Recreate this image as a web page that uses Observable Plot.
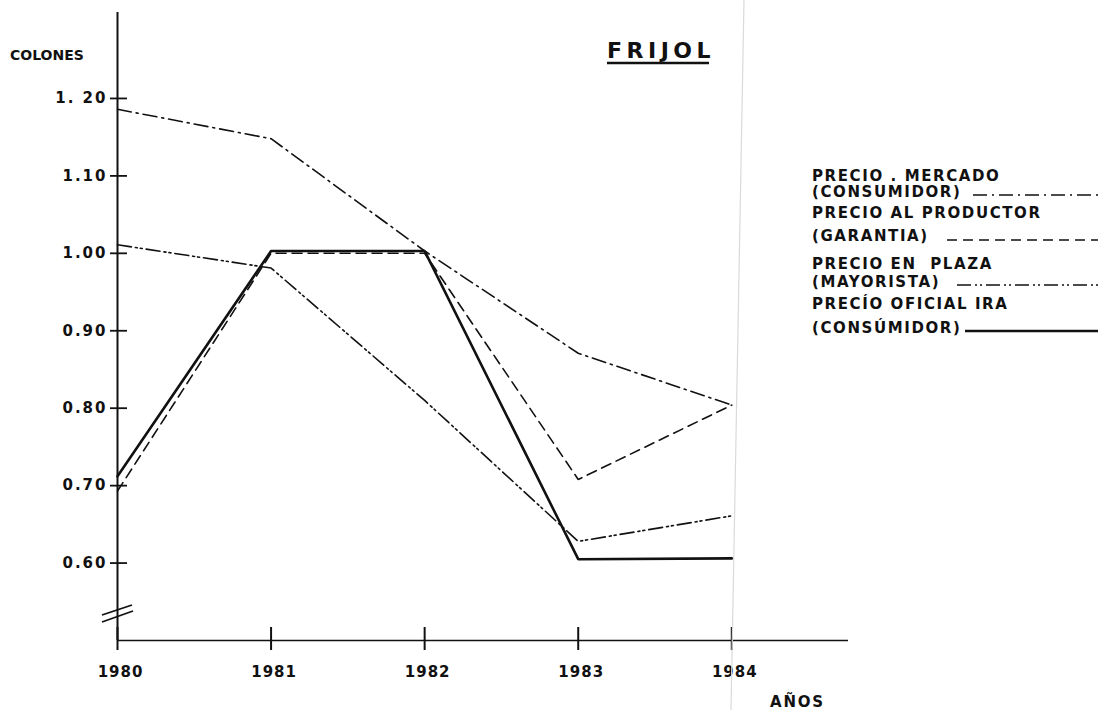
<!DOCTYPE html>
<html>
<head>
<meta charset="utf-8">
<script src="https://cdn.jsdelivr.net/npm/d3@7"></script>
<script src="https://cdn.jsdelivr.net/npm/@observablehq/plot@0.6"></script>
<style>
  html, body { margin: 0; padding: 0; background: #fff; }
  #chart { position: relative; width: 1098px; height: 710px; overflow: hidden; }
  #chart svg text { font-family: "DejaVu Sans", "Liberation Sans", Arial, sans-serif; font-weight: bold; fill: #111; }
</style>
</head>
<body>
<div id="chart"></div>
<script>
// ---- data ----
const years = [1980, 1981, 1982, 1983, 1984];
const precioMercado   = [1.186, 1.148, 1.003, 0.871, 0.804]; // dash-dot
const precioProductor = [0.693, 1.000, 1.000, 0.708, 0.804]; // dashed
const precioPlaza     = [1.011, 0.981, 0.810, 0.628, 0.661]; // dash-dot-dot
const precioOficial   = [0.712, 1.003, 1.003, 0.605, 0.606]; // solid

const yTicks = [0.6, 0.7, 0.8, 0.9, 1.0, 1.1, 1.2];
const yTickLabels = ["0.60", "0.70", "0.80", "0.90", "1.00", "1.10", "1. 20"];
const title = "FRIJOL";
const yTitle = "COLONES";
const xTitle = "AÑOS";
const legendLabels = [
  ["PRECIO . MERCADO", "(CONSUMIDOR)"],
  ["PRECIO AL PRODUCTOR", "(GARANTIA)"],
  ["PRECIO EN  PLAZA", "(MAYORISTA)"],
  ["PRECÍO OFICIAL IRA", "(CONSÚMIDOR)"]
];

const rows = vals => years.map((year, i) => ({year, value: vals[i]}));

const styles = [
  {dash: "14,5,2,5", width: 1.6},
  {dash: "10,6", width: 1.6},
  {dash: "14,4,2,3,2,4", width: 1.6},
  {dash: null, width: 2.6}
];
const series = [precioMercado, precioProductor, precioPlaza, precioOficial];

const plot = Plot.plot({
  width: 1098,
  height: 710,
  marginLeft: 117,
  marginRight: 250,
  marginTop: 12,
  marginBottom: 70,
  x: {domain: [1980, 1984.76], axis: null},
  y: {domain: [0.5, 1.311], axis: null},
  style: {background: "transparent", color: "#111", fontFamily: "DejaVu Sans, Liberation Sans, Arial, sans-serif"},
  marks: [
    Plot.ruleX([1980], {stroke: "#111", strokeWidth: 2}),
    Plot.ruleY([0.5], {stroke: "#111", strokeWidth: 1.6}),
    Plot.axisX(years, {tickSize: 23, dy: -13, strokeWidth: 2, tickFormat: () => "", label: null}),
    Plot.axisX(years, {tickSize: 0, tickPadding: 26, dx: 3, fontSize: 15, tickFormat: d => String(d), label: null}),
    Plot.axisY(yTicks, {tickSize: 17, dx: 10, strokeWidth: 1.8, tickFormat: () => "", label: null}),
    Plot.axisY(yTicks, {tickSize: 0, tickPadding: 10, fontSize: 15, tickFormat: d => yTickLabels[yTicks.indexOf(d)], label: null}),
    ...series.map((vals, i) => Plot.line(rows(vals), {
      x: "year", y: "value", stroke: "#111",
      strokeWidth: styles[i].width,
      strokeDasharray: styles[i].dash,
      strokeLinejoin: "miter"
    }))
  ]
});

document.getElementById("chart").appendChild(plot);
const svg = d3.select(plot);
svg.selectAll("text").style("font-weight", "bold");
svg.selectAll("g[aria-label='x-axis tick label'] text").style("letter-spacing", "1px");
svg.selectAll("g[aria-label='y-axis tick label'] text").style("letter-spacing", "2px");

const xs = plot.scale("x"), ys = plot.scale("y");
const x0 = xs.apply(1980), y0 = ys.apply(0.5);

// faint scan fold line
svg.append("line").attr("x1", 744).attr("y1", 0).attr("x2", 731).attr("y2", 710)
  .attr("stroke", "#dadada").attr("stroke-width", 1.2);

// axis break marks
svg.append("line").attr("x1", x0 - 15).attr("y1", y0 - 25).attr("x2", x0 + 15).attr("y2", y0 - 35)
  .attr("stroke", "#111").attr("stroke-width", 1.8);
svg.append("line").attr("x1", x0 - 15).attr("y1", y0 - 18).attr("x2", x0 + 16).attr("y2", y0 - 29)
  .attr("stroke", "#111").attr("stroke-width", 1.8);

const addText = (x, y, size, ls, txt) =>
  svg.append("text").attr("x", x).attr("y", y).attr("text-anchor", "start")
    .style("font-size", size + "px").style("letter-spacing", ls + "px").text(txt);

// titles
addText(10, 60, 14, 0, yTitle);
addText(607, 58, 22, 4.5, title);
svg.append("line").attr("x1", 607).attr("x2", 709).attr("y1", 63).attr("y2", 63)
  .attr("stroke", "#111").attr("stroke-width", 2.4);
addText(770, 707, 15, 1.8, xTitle);

// legend
const legendRows = [
  {y1: 181, y2: 197, lx: 973, ly: 195},
  {y1: 218, y2: 241, lx: 947, ly: 240},
  {y1: 269, y2: 287, lx: 957, ly: 285},
  {y1: 309, y2: 333, lx: 965, ly: 331}
];
legendLabels.forEach((lab, i) => {
  const r = legendRows[i];
  addText(812, r.y1, 15, 1.6, lab[0]);
  addText(812, r.y2, 15, 1.6, lab[1]);
  const ln = svg.append("line").attr("x1", r.lx).attr("x2", 1098).attr("y1", r.ly).attr("y2", r.ly)
    .attr("stroke", "#111").attr("stroke-width", styles[i].width);
  if (styles[i].dash) ln.attr("stroke-dasharray", styles[i].dash);
});
</script>
</body>
</html>
